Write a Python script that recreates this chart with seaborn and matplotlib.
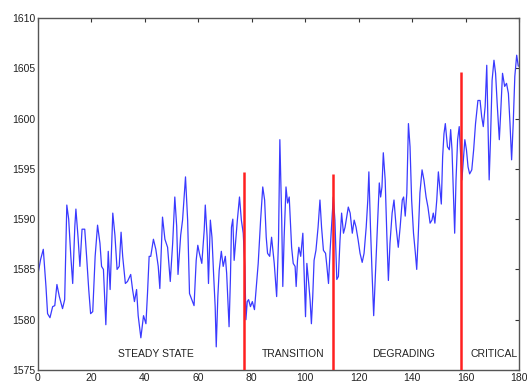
import matplotlib
matplotlib.use("Agg")
import matplotlib.pyplot as plt
import seaborn as sns
import pandas as pd

# time series
t = [0, 1, 2, 3, 3.6, 4.5, 5.5, 6.3, 7.1, 8, 9.2, 10, 10.8, 11.5, 12.3, 13, 13.8, 14.2, 15, 15.7,
     16.5, 17.5, 18.2, 19, 19.7, 20.5, 21.4, 22.3, 23.2, 23.8, 24.5, 25.4, 26.3, 27, 28, 28.8, 29.6,
     30.4, 31.1, 31.7, 32.7, 33.5, 34.7, 35.4, 36.1, 36.9, 37.5, 38.5, 39.5, 40.4, 41, 41.6, 42.2,
     43.2, 44.1, 45, 45.6, 46.6, 47.5, 48.5, 49.5, 50.4, 51.2, 51.9, 52.4, 53.4, 54.1, 55.2, 56,
     56.7, 57.7, 58.4, 59.2, 59.8, 60.4, 61.3, 62.2, 62.6, 63.3, 63.8, 64.5, 65.1, 65.7, 66.3, 66.7,
     67.3, 67.8, 68.6, 69.3, 70.1, 70.6, 71.2, 71.5, 72, 72.4, 72.9, 73.4, 74.1, 74.6, 75.4, 76.1,
     76.8, 77.4, 77.8, 78.3, 78.8, 79.5, 80.2, 81, 81.5, 82.4, 83.3, 84.1, 84.8, 85.4, 85.9, 86.7,
     87.4, 87.9, 88.4, 89.3, 90, 90.5, 91.2, 91.6, 92.1, 92.8, 93.4, 94, 94.9, 95.5, 96.2, 96.6,
     97.1, 97.6, 98.3, 99.1, 99.6, 100.1, 100.6, 101.3, 101.8, 102.3, 102.8, 103.3, 104, 104.8,
     105.5, 106.1, 106.8, 107.6, 108.1, 108.7, 109.3, 110, 110.5, 111.1, 111.8, 112.4, 113, 113.6,
     114.3, 114.9, 115.5, 116.1, 116.8, 117.6, 118.3, 119, 119.8, 120.5, 121.3, 122, 122.8, 123.4,
     123.8, 124.4, 125, 125.6, 126.4, 127.1, 127.7, 128.2, 128.7, 129.2, 129.9, 130.5, 131.1, 131.7,
     132.5, 133.2, 134, 134.8, 135.5, 136.3, 136.8, 137.4, 138, 138.6, 139.2, 139.8, 140.5, 141.2,
     141.7, 142.2, 142.9, 143.7, 144.4, 145.2, 145.9, 146.7, 147.4, 147.9, 148.5, 149.2, 149.8,
     150.4, 150.9, 151.4, 151.9, 152.4, 153.2, 153.9, 154.4, 154.9, 155.4, 155.9, 156.4, 157, 157.6,
     158.1, 158.6, 159.7, 160.3, 160.9, 161.5, 162.3, 163, 163.7, 164.6, 165.4, 166, 166.6, 167.3,
     167.9, 168.5, 168.8, 169.3, 169.9, 170.6, 171.2, 171.8, 172.6, 173.1, 173.8, 174.6, 175.3, 176,
     176.6, 177.2, 177.8, 178.4, 179.1, 179.7]
values = [1584.5, 1586, 1587.0, 1583.3, 1580.6, 1580.2, 1581.3, 1581.4, 1583.5, 1582.3, 1581.1, 1582,
          1591.4, 1590, 1586.3, 1583.6, 1589.3, 1591, 1588.2, 1585.3, 1589, 1589, 1586.3, 1583, 1580.6,
          1580.8, 1586.3, 1589.4, 1587.6, 1585.3, 1585, 1579.5, 1586.8, 1583, 1590.6, 1588.4, 1585,
          1585.3, 1588.7, 1586.3, 1583.6, 1583.8, 1584.5, 1583, 1581.8, 1583, 1580.4, 1578.2, 1580.4,
          1579.6, 1582.7, 1586.3, 1586.3, 1588, 1587, 1585.3, 1583.1, 1590.2, 1588, 1587.2, 1583.8,
          1587.6, 1592.2, 1589.3, 1584.5, 1588.4, 1589.9, 1594.2, 1589.9, 1582.6, 1581.9, 1581.4,
          1585.9, 1587.4, 1586.6, 1585.6, 1588.9, 1591.4, 1588.2, 1583.6, 1589.9, 1588.2, 1584.6,
          1581.3, 1577.3, 1582.3, 1584.9, 1586.8, 1585.3, 1586.3, 1584.6, 1580.9, 1579.3, 1584, 1589.2,
          1590, 1585.9, 1588.2, 1589.9, 1592.2, 1589.9, 1588.6, 1585.3, 1580, 1581.8, 1582, 1581.3,
          1581.8, 1581, 1582.6, 1585.6, 1589.9, 1593.2, 1591.9, 1588.2, 1586.6, 1586.3, 1588.2, 1586.9,
          1585.6, 1582.3, 1587.9, 1597.9, 1589.9, 1583.3, 1588.2, 1593.2, 1591.6, 1592.2, 1587.2,
          1585.6, 1585.3, 1583.3, 1585.9, 1587.2, 1586.3, 1588.6, 1584.6, 1580.3, 1585.6, 1583.6, 1582,
          1579.6, 1582.3, 1585.9, 1586.9, 1589.2, 1591.9, 1589.2, 1586.9, 1586.6, 1585.3, 1583.6,
          1586.9, 1589.9, 1592.2, 1589.9, 1584, 1584.3, 1587.9, 1590.6, 1588.6, 1589.2, 1590.2, 1591.2,
          1590.6, 1588.6, 1589.9, 1589.2, 1587.9, 1586.6, 1585.7, 1586.6, 1589.2, 1591.9, 1594.7,
          1589.2, 1584.6, 1580.4, 1585.6, 1589.9, 1593.6, 1592.2, 1593.2, 1596.6, 1593.9, 1588.6,
          1583.9, 1587.6, 1590.6, 1591.9, 1589.2, 1587.2, 1589.2, 1591.9, 1592.2, 1590.3, 1592.6,
          1599.5, 1597.2, 1591.9, 1588.6, 1586.6, 1585, 1587.9, 1592.6, 1594.9, 1593.9, 1592.2, 1591.2,
          1589.6, 1589.9, 1590.6, 1589.6, 1591.9, 1594.7, 1592.9, 1591.5, 1596.2, 1598.5, 1599.5,
          1597.2, 1596.9, 1598.9, 1596.9, 1592.9, 1588.6, 1593.9, 1597.9, 1599.2, 1596.6, 1593.9,
          1597.9, 1596.9, 1595.2, 1594.5, 1594.9, 1596.9, 1599.5, 1601.8, 1601.8, 1600.2, 1599.2,
          1601.2, 1605.3, 1597.9, 1593.9, 1597.9, 1603.8, 1605.8, 1604.5, 1601.5, 1597.9, 1600.5,
          1604.5, 1603.2, 1603.5, 1602.5, 1599.5, 1595.9, 1599.5, 1604.2, 1606.3, 1605.2]

# phase boundaries (red markers) and their tops
bound_x = [77, 110.4, 158.2]
bound_top = [1594.7, 1594.5, 1604.6]

phase_names = ["STEADY STATE", "TRANSITION", "DEGRADING", "CRITICAL"]
phase_x = [44, 95.3, 136.8, 170.8]

df = pd.DataFrame({"t": t, "value": values})

sns.set_style("white")
plt.rcParams["font.family"] = ["Liberation Sans", "DejaVu Sans"]

fig = plt.figure(figsize=(5.27, 3.83), dpi=100)
ax = fig.add_axes([0.072, 0.034, 0.913, 0.919])

sns.lineplot(data=df, x="t", y="value", estimator=None, sort=False,
             color="#3a3aff", linewidth=0.9, ax=ax)
ax.vlines(bound_x, 1575, bound_top, colors="#ff2020", linewidth=1.8, zorder=3)

for name, px in zip(phase_names, phase_x):
    ax.text(px, 1576.6, name, ha="center", va="center", fontsize=7.5, color="#222222")

ax.set_xlim(0, 180)
ax.set_ylim(1575, 1610)
ax.set_xticks(range(0, 181, 20))
ax.set_yticks(range(1575, 1611, 5))
ax.set_xlabel("")
ax.set_ylabel("")
ax.tick_params(direction="in", length=3, width=0.8, color="#333333",
               labelsize=7.5, labelcolor="#222222", top=True, right=True,
               labeltop=False, labelright=False, pad=2)
for s in ax.spines.values():
    s.set_visible(True)
    s.set_color("#555555")
    s.set_linewidth(1.0)

fig.savefig("out.png", dpi=100)
